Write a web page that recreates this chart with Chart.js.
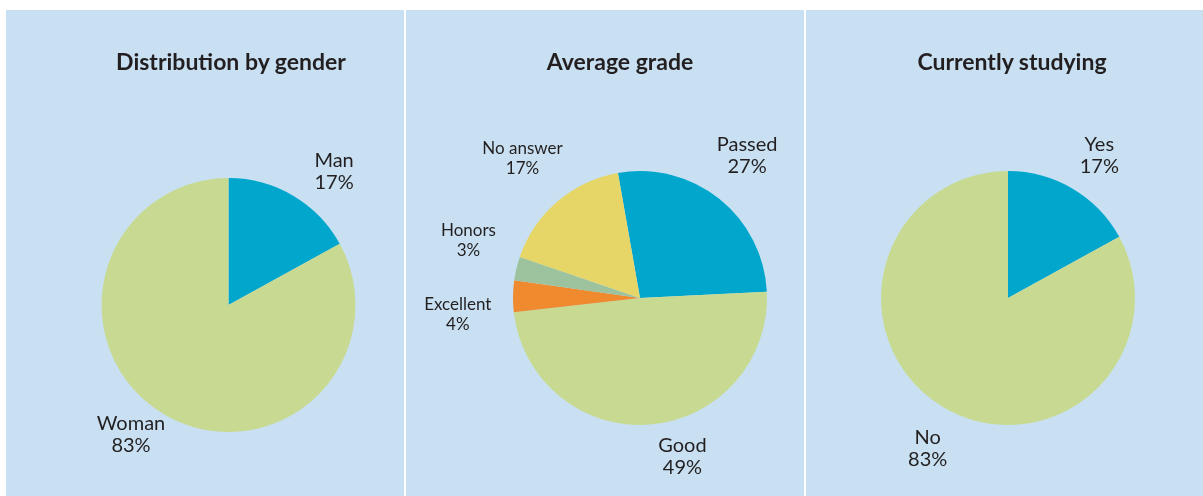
<!DOCTYPE html>
<html><head><meta charset="utf-8">
<script src="https://cdn.jsdelivr.net/npm/chart.js@4/dist/chart.umd.min.js"></script>
<style>
html,body{margin:0;padding:0;background:#fff;width:1203px;height:496px;overflow:hidden;font-family:Lato,"Open Sans",sans-serif;}
.panel{position:absolute;top:10px;height:486px;background:#c8e0f2;}
.panel canvas{position:absolute;left:0;top:0;}
.title{position:absolute;top:47px;transform:translateX(-50%);white-space:nowrap;font-weight:bold;font-size:23px;color:#231f20;font-family:Lato,sans-serif;}
</style></head><body>
<div class="panel" style="left:6px;width:398px"><canvas id="c1" width="398" height="486"></canvas></div>
<div class="panel" style="left:406px;width:398px"><canvas id="c2" width="398" height="486"></canvas></div>
<div class="panel" style="left:806px;width:397px"><canvas id="c3" width="397" height="486"></canvas></div>
<div class="title" style="left:231px">Distribution by gender</div>
<div class="title" style="left:620px">Average grade</div>
<div class="title" style="left:1012px">Currently studying</div>
<script>
// ---- data ----
const genderLabels = ['Man', 'Woman'];
const genderValues = [17, 83];
const gradeLabels = ['Passed', 'Good', 'Excellent', 'Honors', 'No answer'];
const gradeValues = [27, 49, 4, 3, 17];
const studyLabels = ['Yes', 'No'];
const studyValues = [17, 83];

// ---- styles ----
const BLUE = 'rgb(0,166,204)', GREEN = 'rgb(200,218,146)', YELLOW = 'rgb(230,214,104)',
      SAGE = 'rgb(157,195,158)', ORANGE = 'rgb(239,138,46)';

// label placement relative to each slice: angle nudge (deg) and distance from the rim
const outLabels = {
  id: 'outLabels',
  afterDraw(chart, args, opts) {
    const ctx = chart.ctx;
    const meta = chart.getDatasetMeta(0);
    const ds = chart.data.datasets[0];
    ctx.save();
    ctx.fillStyle = '#231f20';
    ctx.textAlign = 'center';
    ctx.textBaseline = 'middle';
    meta.data.forEach((arc, i) => {
      const p = arc.getProps(['x', 'y', 'startAngle', 'endAngle', 'outerRadius'], true);
      const st = opts.place[i];
      const mid = (p.startAngle + p.endAngle) / 2 + st.nudge * Math.PI / 180;
      const r = p.outerRadius + st.gap;
      const x = p.x + Math.cos(mid) * r;
      const y = p.y + Math.sin(mid) * r;
      ctx.font = st.size + 'px Lato, sans-serif';
      const lh = st.lh;
      ctx.fillText(chart.data.labels[i], x, y - lh / 2);
      ctx.fillText(ds.data[i] + '%', x, y + lh / 2);
    });
    ctx.restore();
  }
};

function makePie(id, labels, values, colors, pad, rotation, place) {
  return new Chart(document.getElementById(id), {
    type: 'pie',
    data: { labels: labels, datasets: [{ data: values, backgroundColor: colors, borderWidth: 0 }] },
    options: {
      responsive: false,
      animation: false,
      rotation: rotation,
      layout: { padding: pad },
      plugins: { legend: { display: false }, tooltip: { enabled: false }, outLabels: { place: place } }
    },
    plugins: [outLabels]
  });
}

const big = (nudge, gap) => ({ nudge, gap, size: 20, lh: 22 });
const small = (nudge, gap) => ({ nudge, gap, size: 17, lh: 20 });

makePie('c1', genderLabels, genderValues, [BLUE, GREEN],
  { left: 95.5, right: 48.5, top: 168, bottom: 64 }, 0,
  [big(7.8, 43), big(6.4, 35)]);
makePie('c2', gradeLabels, gradeValues, [BLUE, GREEN, ORANGE, SAGE, YELLOW],
  { left: 107, right: 37, top: 161, bottom: 71 }, -10,
  [big(-1.6, 51), big(-10.4, 37), small(-6.1, 56), small(5.2, 54), small(0.4, 55)]);
makePie('c3', studyLabels, studyValues, [BLUE, GREEN],
  { left: 75, right: 68, top: 161, bottom: 71 }, 0,
  [big(2.1, 42), big(-2.6, 44)]);
</script>
</body></html>
